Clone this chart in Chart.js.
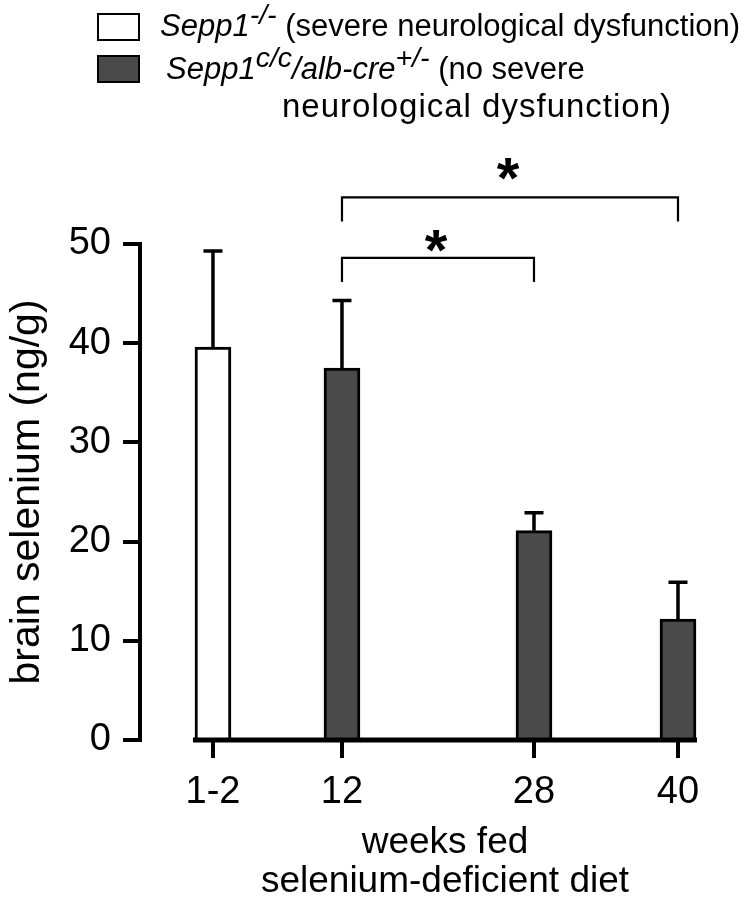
<!DOCTYPE html>
<html>
<head>
<meta charset="utf-8">
<script src="https://cdn.jsdelivr.net/npm/chart.js@4"></script>
<style>
  body { margin: 0; background: #fff; }
  #wrap { position: relative; width: 750px; height: 904px; }
  .leg { position: absolute; font-family: 'Liberation Sans', Arial, sans-serif; font-size: 31px; line-height: 1; color: #000; white-space: nowrap; }
  .leg sup { font-size: 0.92em; vertical-align: 0.42em; line-height: 0; }
  .box { position: absolute; width: 39px; height: 24px; border: 2px solid #000; }
</style>
</head>
<body>
<div id="wrap">
  <canvas id="seleniumChart" width="750" height="904"></canvas>
  <div class="box" style="left:97px; top:13px; background:#fff;"></div>
  <div class="leg" style="left:160px; top:10px;"><i>Sepp1<sup>-/-</sup></i> (severe neurological dysfunction)</div>
  <div class="box" style="left:97px; top:55px; background:#4a4a4a;"></div>
  <div class="leg" style="left:166px; top:53px;"><i>Sepp1<sup>c/c</sup>/alb-cre<sup>+/-</sup></i> (no severe</div>
  <div class="leg" style="left:282px; top:89px; font-size:33px; letter-spacing:1px;">neurological dysfunction)</div>
</div>
<script>
// data
const weekLabels = ['1-2', '12', '28', '40'];
const weekPositions = [1.25, 12, 28, 40];

const knockoutWeeks = [1.25];          // Sepp1-/-
const knockoutMeans = [39.6];
const knockoutErrors = [9.7];

const conditionalWeeks = [12, 28, 40]; // Sepp1c/c/alb-cre+/-
const conditionalMeans = [37.5, 21.1, 12.2];
const conditionalErrors = [6.8, 1.8, 3.7];

const yTicks = [0, 10, 20, 30, 40, 50];

// significance brackets (weeks compared, height in ng/g)
const sigPairs = [[12, 28], [12, 40]];
const sigLevels = [48.6, 54.7];
const sigMarks = ['*', '*'];

const FONT = "'Liberation Sans', Arial, sans-serif";

// upper error bars + the x axis line under the bars
const errorBars = {
  id: 'errorBars',
  afterDatasetsDraw(chart) {
    const { ctx, scales: { x, y } } = chart;
    ctx.save();
    ctx.strokeStyle = '#000';
    ctx.lineWidth = 3.5;
    chart.data.datasets.forEach((ds, i) => {
      chart.getDatasetMeta(i).data.forEach((bar, j) => {
        const top = y.getPixelForValue(ds.data[j].y + ds.errorBars[j]);
        ctx.beginPath();
        ctx.moveTo(bar.x, bar.y);
        ctx.lineTo(bar.x, top);
        ctx.moveTo(bar.x - 9.5, top);
        ctx.lineTo(bar.x + 9.5, top);
        ctx.stroke();
      });
    });
    const y0 = y.getPixelForValue(0);
    ctx.lineWidth = 5;
    ctx.beginPath();
    ctx.moveTo(x.getPixelForValue(weekPositions[0]) - 20, y0);
    ctx.lineTo(x.getPixelForValue(weekPositions[weekPositions.length - 1]) + 19, y0);
    ctx.stroke();
    ctx.restore();
  }
};

// brackets with stars
const sigBrackets = {
  id: 'sigBrackets',
  afterDraw(chart) {
    const { ctx, scales: { x, y } } = chart;
    const starLift = [-8, 3];
    ctx.save();
    ctx.strokeStyle = '#000';
    ctx.fillStyle = '#000';
    ctx.lineWidth = 2.2;
    sigPairs.forEach(([a, b], i) => {
      const x1 = x.getPixelForValue(a);
      const x2 = x.getPixelForValue(b);
      const top = y.getPixelForValue(sigLevels[i]);
      ctx.beginPath();
      ctx.moveTo(x1, top + 24);
      ctx.lineTo(x1, top);
      ctx.lineTo(x2, top);
      ctx.lineTo(x2, top + 24);
      ctx.stroke();
      ctx.font = 'bold 58px ' + FONT;
      ctx.textAlign = 'center';
      ctx.textBaseline = 'alphabetic';
      ctx.fillText(sigMarks[i], (x1 + x2) / 2 - 2, top + 4 - starLift[i]);
    });
    ctx.restore();
  }
};

const tickFont = { family: FONT, size: 38 };

const config = {
  type: 'bar',
  data: {
    datasets: [{
      label: 'Sepp1-/-',
      data: knockoutWeeks.map((w, i) => ({ x: w, y: knockoutMeans[i] })),
      errorBars: knockoutErrors,
      backgroundColor: '#ffffff',
      borderColor: '#000',
      borderWidth: 3,
      barThickness: 36,
      grouped: false
    }, {
      label: 'Sepp1c/c/alb-cre+/-',
      data: conditionalWeeks.map((w, i) => ({ x: w, y: conditionalMeans[i] })),
      errorBars: conditionalErrors,
      backgroundColor: '#4a4a4a',
      borderColor: '#000',
      borderWidth: 3,
      barThickness: 36,
      grouped: false
    }]
  },
  options: {
    responsive: false,
    animation: false,
    layout: { padding: { top: 244, right: 0, bottom: 0, left: 0 } },
    plugins: {
      legend: { display: false },
      tooltip: { enabled: false }
    },
    scales: {
      x: {
        type: 'linear',
        offset: false,
        min: -4.83,
        max: 46,
        afterBuildTicks: (s) => { s.ticks = weekPositions.map(v => ({ value: v })); },
        afterFit: (s) => { s.height = 164; },
        ticks: {
          callback: (v, i) => weekLabels[i],
          font: tickFont,
          color: '#000',
          padding: 12,
          autoSkip: false,
          maxRotation: 0
        },
        grid: { offset: false, drawOnChartArea: false, tickLength: 18, lineWidth: 4, color: '#000' },
        border: { display: false },
        title: {
          display: true,
          text: ['weeks fed', 'selenium-deficient diet'],
          font: { family: FONT, size: 37, lineHeight: 1.05 },
          color: '#000',
          padding: { top: 0, bottom: 3 }
        }
      },
      y: {
        min: 0,
        max: 50,
        afterBuildTicks: (s) => { s.ticks = yTicks.map(v => ({ value: v })); },
        afterFit: (s) => { s.width = 140; },
        ticks: { font: tickFont, color: '#000', padding: 12 },
        grid: { drawOnChartArea: false, tickLength: 17, lineWidth: 4, color: '#000' },
        border: { display: true, width: 4, color: '#000' },
        title: {
          display: true,
          text: 'brain selenium (ng/g)',
          font: { family: FONT, size: 41 },
          color: '#000',
          padding: { top: 3, bottom: 0 }
        }
      }
    }
  },
  plugins: [errorBars, sigBrackets]
};

const seleniumChart = new Chart(document.getElementById('seleniumChart'), config);
</script>
</body>
</html>
